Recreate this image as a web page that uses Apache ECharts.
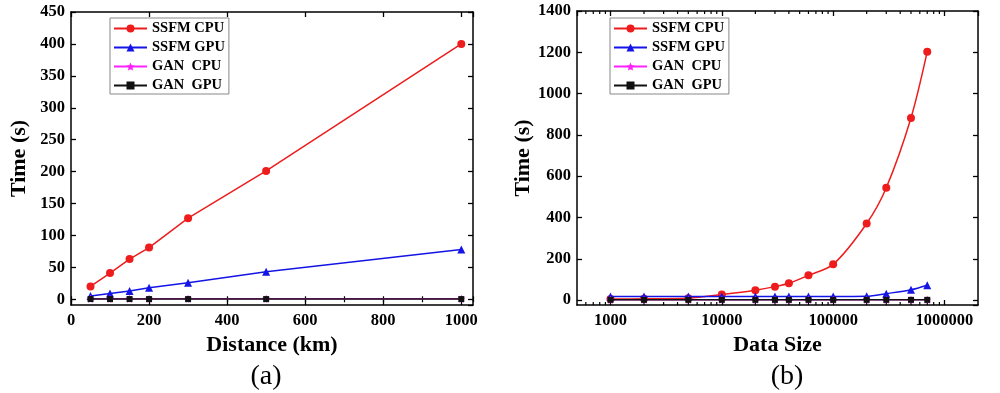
<!DOCTYPE html>
<html><head><meta charset="utf-8">
<script src="https://cdn.jsdelivr.net/npm/echarts@6/dist/echarts.min.js"></script>
<style>html,body{margin:0;padding:0;background:#fff}#c{width:1000px;height:393px}</style>
</head><body><div id="c"></div>
<script>
// ---- data ----
const seriesNames = ['SSFM CPU', 'SSFM GPU', 'GAN  CPU', 'GAN  GPU'];
const distKm   = [50, 100, 150, 200, 300, 500, 1000];
const ssfmCpuA = [20, 41, 63, 81, 127, 201, 400];
const ssfmGpuA = [5, 9, 13, 18, 26, 43, 78];
const ganCpuA  = [0.8, 0.8, 0.8, 0.8, 0.8, 0.8, 0.8];
const ganGpuA  = [0.3, 0.3, 0.3, 0.3, 0.3, 0.3, 0.3];

const dataSize = [1000, 2000, 5000, 10000, 20000, 30000, 40000, 60000, 100000, 200000, 300000, 500000, 700000];
const ssfmCpuB = [5, 6, 9, 27, 48, 65, 81, 120, 173, 371, 544, 882, 1203];
const ssfmGpuB = [17, 17, 17, 17, 17, 17, 17, 17, 17, 18, 31, 50, 72];
const ganCpuB  = [2, 2, 2, 2, 2, 2, 2, 2, 2, 2, 2, 2, 2];
const ganGpuB  = [1, 1, 1, 1, 1, 1, 1, 1, 1, 1, 1, 1, 1];

const logMinorTicks = [600, 700, 800, 900, 2000, 3000, 4000, 5000, 6000, 7000, 8000, 9000,
  20000, 30000, 40000, 50000, 60000, 70000, 80000, 90000,
  200000, 300000, 400000, 500000, 600000, 700000, 800000, 900000];

const panelLabels = ['(a)', '(b)'];
const xNames = ['Distance (km)', 'Data Size'];
const yName = 'Time (s)';

// ---- styling ----
const FONT = '"Liberation Serif", "Times New Roman", serif';
const colors = ['#ee1c1c', '#1414e6', '#ff22ff', '#111111'];
const symbols = ['circle', 'triangle',
  'path://M0,-10 L2.94,-4.05 9.51,-3.09 4.76,1.55 5.88,8.09 0,5 -5.88,8.09 -4.76,1.55 -9.51,-3.09 -2.94,-4.05 Z',
  'rect'];
const symbolSizes = [8, 8, 8, 6];

const A = { xmin: 0, xmax: 1030, ymin: -9, ymax: 450 };
const B = { xmin: 500, xmax: 2000000, ymin: -24, ymax: 1400 };

const lineCol = '#000';
const plainNum = v => String(Math.round(v));
const labelStyle = { color: '#000', fontFamily: FONT, fontWeight: 'bold', fontSize: 16.5, formatter: plainNum };
const nameStyle = { color: '#000', fontFamily: FONT, fontWeight: 'bold', fontSize: 22 };

function pairs(xs, ys) { return xs.map((x, i) => [x, ys[i]]); }

function mkSeries(idx, xs, ys, xAxisIndex, yAxisIndex, smooth) {
  return {
    type: 'line', name: seriesNames[idx], xAxisIndex, yAxisIndex,
    data: pairs(xs, ys), smooth: smooth,
    symbol: symbols[idx], symbolSize: symbolSizes[idx], showSymbol: true,
    lineStyle: { color: colors[idx], width: 1.5 },
    itemStyle: { color: colors[idx] },
    z: 3 + idx, animation: false
  };
}

function xAx(grid, pos, opts) {
  return Object.assign({
    gridIndex: grid, position: pos,
    axisLine: { onZero: false, lineStyle: { color: lineCol, width: 1.5 } },
    axisTick: { inside: true, length: 5, lineStyle: { color: lineCol, width: 1.3 } },
    axisLabel: { show: false },
    splitLine: { show: false }
  }, opts);
}

const chart = echarts.init(document.getElementById('c'), null, { renderer: 'canvas' });

const option = {
  backgroundColor: '#fff',
  animation: false,
  grid: [
    { left: 71, right: 527, top: 12, bottom: 88 },
    { left: 577, right: 22, top: 11, bottom: 88 }
  ],
  legend: [0, 1].map(g => ({
    data: seriesNames, orient: 'vertical',
    left: g === 0 ? 110 : 610, top: 18,
    itemWidth: 33, itemHeight: 10, itemGap: 4,
    padding: [3, 4, 1, 3],
    borderColor: '#888', borderWidth: 1, backgroundColor: '#fff',
    textStyle: { color: '#000', fontFamily: FONT, fontWeight: 'bold', fontSize: 14.5, lineHeight: 14 },
    selectedMode: false
  })),
  xAxis: [
    xAx(0, 'bottom', {
      type: 'value', min: A.xmin, max: A.xmax, interval: 200,
      axisLabel: Object.assign({ show: true, margin: 7, showMaxLabel: false }, labelStyle),
      name: xNames[0], nameLocation: 'middle', nameGap: 27, nameTextStyle: nameStyle
    }),
    xAx(0, 'bottom', { type: 'value', min: A.xmin, max: A.xmax, interval: 100,
      axisLine: { show: false }, axisTick: { inside: true, length: 3, lineStyle: { color: lineCol, width: 1.2 } } }),
    xAx(0, 'top', { type: 'value', min: A.xmin, max: A.xmax, interval: 200 }),
    xAx(0, 'top', { type: 'value', min: A.xmin, max: A.xmax, interval: 100,
      axisLine: { show: false }, axisTick: { inside: true, length: 3, lineStyle: { color: lineCol, width: 1.2 } } }),
    xAx(1, 'bottom', {
      type: 'log', logBase: 10, min: B.xmin, max: B.xmax,
      axisLabel: Object.assign({ show: true, margin: 7, showMinLabel: false, showMaxLabel: false }, labelStyle),
      name: xNames[1], nameLocation: 'middle', nameGap: 27, nameTextStyle: nameStyle
    }),
    xAx(1, 'top', { type: 'log', logBase: 10, min: B.xmin, max: B.xmax })
  ],
  yAxis: [
    xAx(0, 'left', {
      type: 'value', min: A.ymin, max: A.ymax, minInterval: 50, maxInterval: 50,
      axisLabel: Object.assign({ show: true, margin: 6, showMinLabel: false }, labelStyle),
      name: yName, nameLocation: 'middle', nameGap: 41, nameTextStyle: nameStyle
    }),
    xAx(0, 'right', { type: 'value', min: A.ymin, max: A.ymax, minInterval: 50, maxInterval: 50 }),
    xAx(1, 'left', {
      type: 'value', min: B.ymin, max: B.ymax, minInterval: 200, maxInterval: 200,
      axisLabel: Object.assign({ show: true, margin: 6, showMinLabel: false }, labelStyle),
      name: yName, nameLocation: 'middle', nameGap: 43, nameTextStyle: nameStyle
    }),
    xAx(1, 'right', { type: 'value', min: B.ymin, max: B.ymax, minInterval: 200, maxInterval: 200 })
  ],
  series: [
    mkSeries(0, distKm, ssfmCpuA, 0, 0, false),
    mkSeries(1, distKm, ssfmGpuA, 0, 0, false),
    mkSeries(2, distKm, ganCpuA, 0, 0, false),
    mkSeries(3, distKm, ganGpuA, 0, 0, false),
    mkSeries(0, dataSize, ssfmCpuB, 4, 2, 0.3),
    mkSeries(1, dataSize, ssfmGpuB, 4, 2, 0.3),
    mkSeries(2, dataSize, ganCpuB, 4, 2, 0.3),
    mkSeries(3, dataSize, ganGpuB, 4, 2, 0.3),
    {
      type: 'custom', name: 'minorTicks', xAxisIndex: 4, yAxisIndex: 2, silent: true, clip: false,
      data: logMinorTicks.map(v => [v, 0]), encode: { x: 0, y: 1 },
      renderItem: function (params, api) {
        const v = api.value(0);
        const pb = api.coord([v, B.ymin]);
        const pt = api.coord([v, B.ymax]);
        const st = { stroke: lineCol, lineWidth: 1.2 };
        return { type: 'group', children: [
          { type: 'line', shape: { x1: pb[0], y1: pb[1], x2: pb[0], y2: pb[1] - 3 }, style: st },
          { type: 'line', shape: { x1: pt[0], y1: pt[1], x2: pt[0], y2: pt[1] + 3 }, style: st }
        ] };
      },
      z: 1
    }
  ],
  graphic: [
    { type: 'text', x: 266, y: 377, style: { text: panelLabels[0], font: '28px ' + FONT, fill: '#000', align: 'center', verticalAlign: 'middle' } },
    { type: 'text', x: 787, y: 377, style: { text: panelLabels[1], font: '28px ' + FONT, fill: '#000', align: 'center', verticalAlign: 'middle' } }
  ]
};
chart.setOption(option);
</script></body></html>
